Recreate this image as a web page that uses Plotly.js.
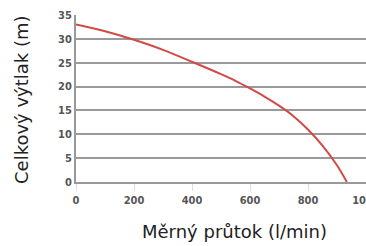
<!DOCTYPE html>
<html>
<head>
<meta charset="utf-8">
<script src="https://cdn.plot.ly/plotly-3.0.1.min.js"></script>
<style>html,body{margin:0;padding:0;background:#fff;}#chart{width:366px;height:246px;}</style>
</head>
<body>
<div id="chart"></div>
<script>
const flow = [0, 100, 200, 300, 400, 500, 550, 600, 650, 700, 750, 800, 850, 900, 934];
const head = [33, 31.6, 29.8, 27.7, 25.2, 22.6, 21.2, 19.6, 17.9, 16.0, 13.8, 11.0, 7.6, 3.5, 0];
const xTicks = [0, 200, 400, 600, 800, 1000];
const yTicks = [0, 5, 10, 15, 20, 25, 30, 35];
const xTitle = 'Měrný průtok (l/min)';
const yTitle = 'Celkový výtlak (m)';

const tickFont = {family: '"Liberation Sans Narrow", "DejaVu Sans Condensed", sans-serif', size: 11, color: '#555', weight: 'bold'};
const titleFont = {family: '"DejaVu Sans", sans-serif', size: 18, color: '#222'};

Plotly.newPlot('chart', [{
  x: flow, y: head, type: 'scatter', mode: 'lines',
  line: {color: '#d24a45', width: 2, shape: 'spline', smoothing: 0.8},
  hoverinfo: 'skip'
}], {
  width: 366, height: 246,
  margin: {l: 76, r: 0, t: 15, b: 64},
  paper_bgcolor: '#fff', plot_bgcolor: '#fff',
  showlegend: false,
  xaxis: {
    range: [0, 1000], tickvals: xTicks, ticktext: xTicks.map(String),
    showgrid: false, zeroline: false,
    showline: true, linecolor: '#999', linewidth: 2,
    ticks: 'outside', ticklen: 7, tickcolor: '#ddd', tickwidth: 1,
    ticklabeloverflow: 'allow',
    tickfont: tickFont
  },
  yaxis: {
    range: [0, 35], tickvals: yTicks, ticktext: yTicks.map(String),
    showgrid: true, gridcolor: '#9a9a9a', gridwidth: 2,
    zeroline: false,
    showline: true, linecolor: '#999', linewidth: 2,
    ticks: '', ticklen: 0,
    tickfont: tickFont
  },
  annotations: [
    {text: xTitle, xref: 'paper', yref: 'paper', x: (234 - 76) / 290, y: (182 - 231) / 167,
     xanchor: 'center', yanchor: 'middle', showarrow: false, font: titleFont},
    {text: yTitle, xref: 'paper', yref: 'paper', x: (21 - 76) / 290, y: (182 - 100) / 167,
     xanchor: 'center', yanchor: 'middle', textangle: -90, showarrow: false, font: titleFont}
  ]
}, {displayModeBar: false, staticPlot: true});
</script>
</body>
</html>
